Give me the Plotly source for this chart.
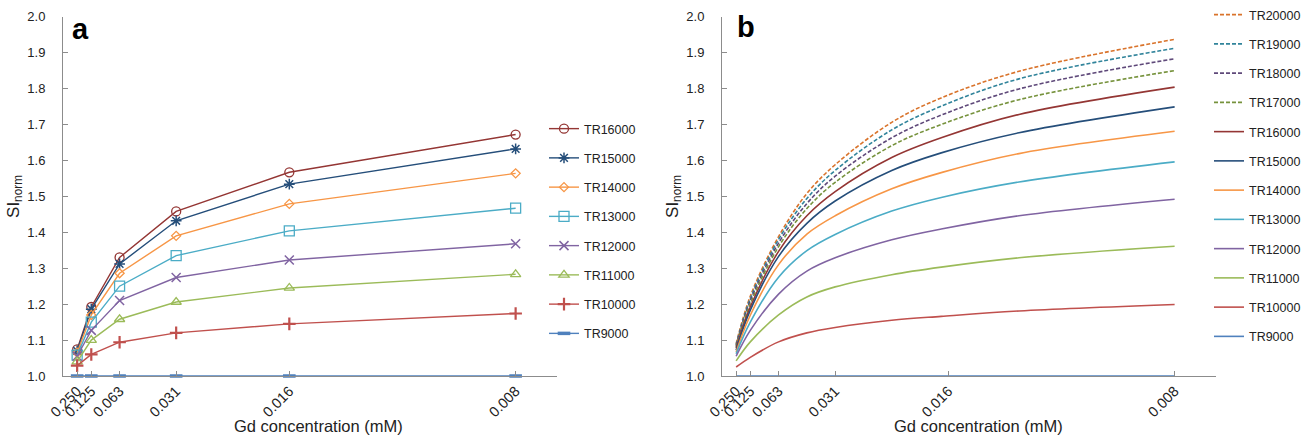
import plotly.graph_objects as go

# ---------- data ----------
# dilution factor positions (1/concentration) used as x; labels are concentrations
x_a = [4, 8, 16, 32, 64, 128]
tick_vals = [4, 8, 16, 32, 64, 128]
tick_text = ["0.250", "0.125", "0.063", "0.031", "0.016", "0.008"]

# panel a: measured SI_norm
a_TR16000 = [1.074, 1.192, 1.330, 1.458, 1.567, 1.672]
a_TR15000 = [1.070, 1.186, 1.312, 1.432, 1.534, 1.632]
a_TR14000 = [1.065, 1.170, 1.286, 1.390, 1.479, 1.564]
a_TR13000 = [1.058, 1.150, 1.250, 1.335, 1.404, 1.467]
a_TR12000 = [1.055, 1.127, 1.210, 1.274, 1.323, 1.368]
a_TR11000 = [1.040, 1.100, 1.158, 1.206, 1.245, 1.283]
a_TR10000 = [1.029, 1.060, 1.094, 1.120, 1.145, 1.174]
a_TR9000 = [1.000, 1.000, 1.000, 1.000, 1.000, 1.000]

# panel b: simulated curves (values read at these x positions)
x_b = [4, 8, 16, 24, 32, 48, 62, 84, 128]
b_TR20000 = [1.090, 1.222, 1.388, 1.508, 1.588, 1.706, 1.774, 1.848, 1.937]
b_TR19000 = [1.087, 1.215, 1.380, 1.494, 1.572, 1.685, 1.751, 1.827, 1.912]
b_TR18000 = [1.084, 1.209, 1.370, 1.480, 1.556, 1.663, 1.726, 1.799, 1.883]
b_TR17000 = [1.081, 1.201, 1.360, 1.466, 1.539, 1.641, 1.700, 1.769, 1.850]
b_TR16000 = [1.077, 1.192, 1.347, 1.446, 1.513, 1.608, 1.663, 1.728, 1.804]
b_TR15000 = [1.072, 1.183, 1.333, 1.425, 1.487, 1.572, 1.621, 1.677, 1.749]
b_TR14000 = [1.067, 1.169, 1.310, 1.395, 1.446, 1.521, 1.566, 1.619, 1.681]
b_TR13000 = [1.062, 1.150, 1.275, 1.349, 1.394, 1.459, 1.497, 1.540, 1.596]
b_TR12000 = [1.055, 1.127, 1.228, 1.292, 1.329, 1.379, 1.409, 1.446, 1.492]
b_TR11000 = [1.042, 1.095, 1.170, 1.220, 1.248, 1.282, 1.303, 1.329, 1.361]
b_TR10000 = [1.025, 1.052, 1.095, 1.120, 1.135, 1.155, 1.166, 1.181, 1.199]
b_TR9000 = [1.000, 1.000, 1.000, 1.000, 1.000, 1.000, 1.000, 1.000, 1.000]

x_title = "Gd concentration (mM)"
y_title = "SI<sub>norm</sub>"

# ---------- styles ----------
FONT = "Liberation Sans, Arial, sans-serif"
C = {
    "TR20000": "#D9732B", "TR19000": "#31849B", "TR18000": "#5F497A", "TR17000": "#76923C",
    "TR16000": "#943634", "TR15000": "#254E7A", "TR14000": "#F79646", "TR13000": "#4BACC6",
    "TR12000": "#8064A2", "TR11000": "#9BBB59", "TR10000": "#C0504D", "TR9000": "#4F81BD",
}

fig = go.Figure()

a_series = [
    ("TR16000", a_TR16000, "circle-open", 9, 1.3),
    ("TR15000", a_TR15000, "asterisk-open", 9, 1.5),
    ("TR14000", a_TR14000, "diamond-open", 7, 1.3),
    ("TR13000", a_TR13000, "square-open", 10, 1.3),
    ("TR12000", a_TR12000, "x-thin-open", 9, 1.5),
    ("TR11000", a_TR11000, "triangle-up-open", 9, 1.3),
    ("TR10000", a_TR10000, "cross-thin-open", 9, 2.2),
    ("TR9000", a_TR9000, "line-ew-open", 9, 3.5),
]
for name, ys, sym, sz, mlw in a_series:
    fig.add_trace(go.Scatter(
        x=x_a, y=ys, name=name, mode="lines+markers",
        line=dict(color=C[name], width=1.4),
        marker=dict(symbol=sym, size=sz, color=C[name], line=dict(color=C[name], width=mlw)),
        xaxis="x", yaxis="y", legend="legend", legendgroup="a" + name,
        cliponaxis=False,
    ))

b_series = [
    ("TR20000", b_TR20000, "dash"), ("TR19000", b_TR19000, "dash"),
    ("TR18000", b_TR18000, "dash"), ("TR17000", b_TR17000, "dash"),
    ("TR16000", b_TR16000, "solid"), ("TR15000", b_TR15000, "solid"),
    ("TR14000", b_TR14000, "solid"), ("TR13000", b_TR13000, "solid"),
    ("TR12000", b_TR12000, "solid"), ("TR11000", b_TR11000, "solid"),
    ("TR10000", b_TR10000, "solid"), ("TR9000", b_TR9000, "solid"),
]
for name, ys, dash in b_series:
    fig.add_trace(go.Scatter(
        x=x_b, y=ys, name=name, mode="lines",
        line=dict(color=C[name], width=1.6, dash=("4px,2px" if dash == "dash" else "solid"),
                  shape="spline", smoothing=1.0),
        xaxis="x2", yaxis="y2", legend="legend2", legendgroup="b" + name,
        cliponaxis=False,
    ))

W, H = 1309, 437
ydom = [61 / H, 420.3 / H]
axis_common = dict(
    showline=True, linecolor="#8C8C8C", linewidth=1, showgrid=False, zeroline=False,
    ticks="inside", tickcolor="#8C8C8C", ticklen=5, automargin=False,
    tickfont=dict(family=FONT, size=13, color="#222222"),
)
xcommon = dict(axis_common, tickvals=tick_vals, ticktext=tick_text, tickangle=-45,
               range=[0, 139.7], tickfont=dict(family=FONT, size=14.5, color="#222222"))
ycommon = dict(axis_common, range=[1.0, 2.0], dtick=0.1, tickformat=".1f", ticklabelstandoff=14,
               title=dict(text=y_title, font=dict(family=FONT, size=17, color="#222222"),
                          standoff=3))

leg_common = dict(font=dict(family=FONT, size=12.5, color="#222222"), xanchor="left", yanchor="top",
                  tracegroupgap=10, traceorder="grouped", bgcolor="rgba(0,0,0,0)", itemwidth=30,
                  maxheight=1.0)

title_font = dict(family=FONT, size=16.5, color="#222222")
fig.update_layout(
    template="none",
    width=W, height=H, margin=dict(l=0, r=0, t=0, b=0, autoexpand=False),
    paper_bgcolor="white", plot_bgcolor="white",
    xaxis=dict(xcommon, domain=[63 / W, 557 / W], anchor="y"),
    yaxis=dict(ycommon, domain=ydom, anchor="x"),
    xaxis2=dict(xcommon, domain=[722 / W, 1216 / W], anchor="y2"),
    yaxis2=dict(ycommon, domain=ydom, anchor="x2"),
    legend=dict(leg_common, x=544 / W, y=1 - 114 / H),
    legend2=dict(leg_common, x=1209 / W, y=1.0),
    showlegend=True,
    annotations=[
        dict(text="<b>a</b>", x=70 / W, y=1 - 29 / H, xref="paper", yref="paper",
             xanchor="left", yanchor="middle", showarrow=False,
             font=dict(family=FONT, size=29, color="black")),
        dict(text="<b>b</b>", x=735 / W, y=1 - 27 / H, xref="paper", yref="paper",
             xanchor="left", yanchor="middle", showarrow=False,
             font=dict(family=FONT, size=29, color="black")),
        dict(text=x_title, x=318 / W, y=1 - 426 / H, xref="paper", yref="paper",
             xanchor="center", yanchor="middle", showarrow=False, font=title_font),
        dict(text=x_title, x=978 / W, y=1 - 426 / H, xref="paper", yref="paper",
             xanchor="center", yanchor="middle", showarrow=False, font=title_font),
    ],
)

fig.write_html("out.html", config={"displayModeBar": False},
               post_script="document.body.style.margin='0';document.body.style.overflow='hidden';")
